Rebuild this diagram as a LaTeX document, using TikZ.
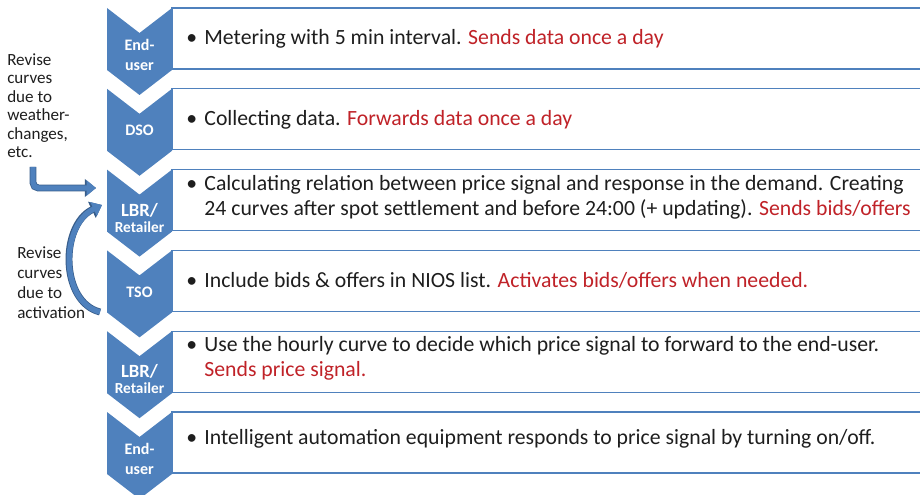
\documentclass[tikz,border=0pt]{standalone}
\usepackage{fontspec}
\setmainfont{Carlito}
\usepackage{xcolor}
\usetikzlibrary{arrows.meta}
\definecolor{chev}{RGB}{79,129,189}
\definecolor{chevdark}{RGB}{56,93,138}
\definecolor{txt}{RGB}{30,30,30}
\definecolor{sendred}{RGB}{192,34,40}

\begin{document}
\begin{tikzpicture}[x=0.75pt,y=-0.75pt,
  lbl/.style={text=white,font=\bfseries\fontsize{12}{15.5}\selectfont,align=center,inner sep=0},
  item/.style={anchor=base west,align=left,text=txt,font=\fontsize{16.3}{18.75}\selectfont,inner sep=0},
  note/.style={anchor=base west,align=left,text=txt,font=\fontsize{12.8}{13.9}\selectfont,inner sep=0},
  fb/.style={chev,line width=4pt,-{Triangle[width=11pt,length=7pt]},
    preaction={draw=chevdark,line width=5.2pt,-{Triangle[width=13pt,length=8.4pt]}}}]
\useasboundingbox (0,0) rectangle (920,495);
\clip (0,0) rectangle (920,495);
% boxes, then chevrons on top
\foreach \t in {8,88.8,169.6,250.4,331.2,412}
  \draw[chev,line width=1pt,fill=white] (172,\t) rectangle (940,\t+61);
\foreach \t in {8,88.8,169.6,250.4,331.2,412}
  \fill[chev] (107,\t) -- (139.5,\t+25) -- (172,\t) -- (172,\t+62)
    -- (139.5,\t+87) -- (107,\t+62) -- cycle;
\node[lbl] (c1) at (139.5,55) {End-\\user};
\node[lbl] (c2) at (139.5,130) {DSO};
\node[lbl,font=\bfseries\fontsize{14}{12.5}\selectfont] (c3) at (139.5,218) {LBR/\\{\fontsize{11.5}{12.5}\selectfont Retailer}};
\node[lbl] (c4) at (139.5,292) {TSO};
\node[lbl,font=\bfseries\fontsize{14}{12.5}\selectfont] (c5) at (139.5,379) {LBR/\\{\fontsize{11.5}{12.5}\selectfont Retailer}};
\node[lbl] (c6) at (139.5,459) {End-\\user};
% texts
\node[item] (t1) at (186,45) {\textbullet\hspace{5.5pt}Metering with 5 min interval. \textcolor{sendred}{Sends data once a day}};
\node[item] (t2) at (186,125.8) {\textbullet\hspace{5.5pt}Collecting data. \textcolor{sendred}{Forwards data once a day}};
\node[item] (t3) at (186,216) {\textbullet\hspace{5.5pt}Calculating relation between price signal and response in the demand. Creating\\
  \hphantom{\textbullet\hspace{5.5pt}}24 curves after spot settlement and before 24:00 (+ updating). \textcolor{sendred}{Sends bids/offers}};
\node[item] (t4) at (186,287.4) {\textbullet\hspace{5.5pt}Include bids \& offers in NIOS list. \textcolor{sendred}{Activates bids/offers when needed.}};
\node[item] (t5) at (186,376) {\textbullet\hspace{5.5pt}Use the hourly curve to decide which price signal to forward to the end-user.\\
  \hphantom{\textbullet\hspace{5.5pt}}\textcolor{sendred}{Sends price signal.}};
\node[item] (t6) at (186,444) {\textbullet\hspace{5.5pt}Intelligent automation equipment responds to price signal by turning on/off.};
% side notes
\node[note] (n1) at (7,158) {Revise\\curves\\due to\\weather-\\changes,\\etc.};
\node[note,font=\fontsize{12.8}{14.8}\selectfont] (n2) at (17,318) {Revise\\curves\\due to\\activation};
\coordinate (a1) at (33,167);
\coordinate (a2) at (96,188);
\coordinate (b1) at (100,312);
\coordinate (b2) at (102,205);
\draw[fb,rounded corners=4pt] (a1) |- (a2);
\draw[fb] (b1) .. controls (60,302) and (60,225) .. (b2);
\end{tikzpicture}
\end{document}
